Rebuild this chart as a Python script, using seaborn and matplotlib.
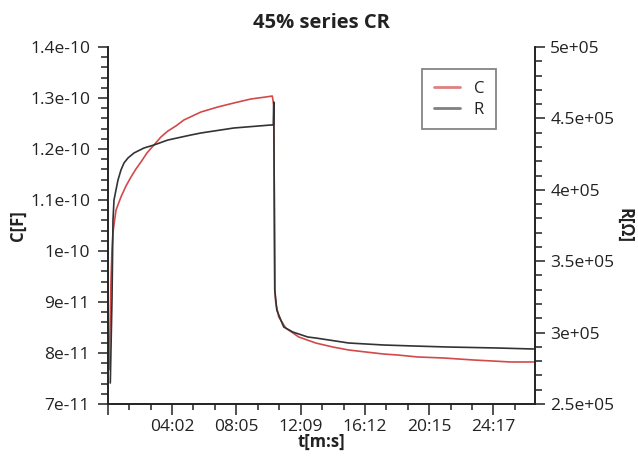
import numpy as np
import pandas as pd
import matplotlib
matplotlib.use("Agg")
import matplotlib.pyplot as plt
from matplotlib.ticker import FixedLocator, FuncFormatter, MultipleLocator, AutoMinorLocator
from matplotlib.lines import Line2D
import seaborn as sns

# ---------------- data (time in seconds) ----------------
t_c = [3.8, 7.6, 11.3, 15.1, 18.9, 30.2, 49.1, 68.0, 86.9, 105.7, 124.6, 147.3,
       173.7, 200.1, 226.6, 256.7, 287.1,
       351.3, 415.5, 475.9, 540.1, 596.8, 621.3, 627.0, 629.0, 630.8, 634.6,
       645.9, 672.3, 721.4, 785.6, 849.8, 910.3, 974.5, 1042.5, 1095.3, 1170.9,
       1269.1, 1382.4, 1522.1, 1609.0]
c_vals = [7.67e-11, 8.45e-11, 9.43e-11, 1.002e-10, 1.037e-10, 1.080e-10, 1.106e-10,
          1.1275e-10, 1.145e-10, 1.1608e-10, 1.1745e-10, 1.1922e-10, 1.2078e-10,
          1.2235e-10, 1.2353e-10, 1.2451e-10, 1.2569e-10, 1.2725e-10,
          1.2824e-10, 1.2902e-10, 1.2980e-10, 1.3020e-10, 1.3039e-10, 1.2863e-10,
          1.10e-10, 9.235e-11, 8.98e-11, 8.706e-11, 8.490e-11, 8.314e-11, 8.196e-11,
          8.118e-11, 8.059e-11, 8.020e-11, 7.980e-11, 7.961e-11, 7.922e-11,
          7.902e-11, 7.863e-11, 7.824e-11, 7.824e-11]

t_r = [8.7, 15.1, 18.9, 22.7, 30.2, 37.8, 49.1, 60.4, 75.5, 98.2, 136.0, 173.7,
       226.6, 313.5, 351.3,
       475.9, 615.7, 625.1, 627.0, 629.0, 630.8, 638.4, 653.5, 664.8, 698.7,
       755.4, 785.6, 910.3, 1042.5, 1155.8, 1284.2, 1473.0, 1609.0]
r_vals = [264706, 322829, 378851, 392857, 399860, 406863, 413866, 418768, 422269,
          425770, 429272, 431373,
          434874, 438375, 439776, 443277, 445378, 445378, 461485, 392857, 329832,
          315826, 308824, 303922, 300420, 296919, 296218, 292717, 291317, 290616,
          289916, 289216, 288515]

x_major = [0, 242, 485, 729, 972, 1215, 1457]
x_labels = ["", "04:02", "08:05", "12:09", "16:12", "20:15", "24:17"]

title = "45% series CR"
c_label, r_label = "C", "R"

df_c = pd.DataFrame({"t": t_c, "C": c_vals})
df_r = pd.DataFrame({"t": t_r, "R": r_vals})

# ---------------- style ----------------
sns.set_theme(style="ticks")
plt.rcParams["font.family"] = ["Open Sans", "DejaVu Sans"]

C_COLOR = "#d24a4a"
R_COLOR = "#333333"
TXT = "#222222"

fig = plt.figure(figsize=(6.38, 4.62), dpi=100)
ax = fig.add_axes([108 / 638, 58 / 462, 427 / 638, 357 / 462])
ax2 = ax.twinx()

sns.lineplot(data=df_c, x="t", y="C", ax=ax, color=C_COLOR, lw=1.2,
             sort=False, estimator=None, legend=False)
sns.lineplot(data=df_r, x="t", y="R", ax=ax2, color=R_COLOR, lw=1.2,
             sort=False, estimator=None, legend=False)

ax.set_xlim(0, 1615)
ax.set_ylim(7e-11, 1.4e-10)
ax2.set_ylim(2.5e5, 5e5)

# x ticks
ax.xaxis.set_major_locator(FixedLocator(x_major))
ax.set_xticklabels(x_labels)
step = np.diff(x_major).mean()
minor = []
for a in x_major:
    minor += [a + step / 3, a + 2 * step / 3]
ax.xaxis.set_minor_locator(FixedLocator([m for m in minor if m < 1620]))

# y ticks
ax.yaxis.set_major_locator(MultipleLocator(1e-11))
ax.yaxis.set_minor_locator(AutoMinorLocator(5))
ax.yaxis.set_major_formatter(FuncFormatter(lambda v, p: "{:.3g}".format(v)))
ax2.yaxis.set_major_locator(MultipleLocator(5e4))
ax2.yaxis.set_minor_locator(AutoMinorLocator(5))
ax2.yaxis.set_major_formatter(FuncFormatter(lambda v, p: "{:.3g}".format(v)))

for a in (ax, ax2):
    a.tick_params(which="both", direction="out", colors=TXT, labelsize=12.5,
                  width=1.1)
    for s in a.spines.values():
        s.set_color(TXT)
        s.set_linewidth(1.2)
    a.spines["top"].set_visible(False)
    a.xaxis.get_offset_text().set_visible(False)
    a.yaxis.get_offset_text().set_visible(False)

ax.tick_params(axis="y", which="major", length=7, pad=6)
ax.tick_params(axis="y", which="minor", length=5)
ax2.tick_params(axis="y", which="major", length=7, pad=4)
ax2.tick_params(axis="y", which="minor", length=5)
ax.tick_params(axis="x", which="major", length=8, pad=3)
ax.tick_params(axis="x", which="minor", length=4)

ax.set_xlabel("t[m:s]", fontsize=12, fontweight="bold", labelpad=-1.5, color=TXT)
ax.set_ylabel("C[F]", fontsize=12, fontweight="bold", labelpad=2, color=TXT)
ax2.set_xlabel("")
ax2.set_ylabel("R[Ω]", fontsize=12, fontweight="bold", rotation=270,
               labelpad=14, color=TXT)
ax.set_title(title, fontsize=14.5, fontweight="bold", pad=14, color=TXT)

handles = [Line2D([], [], color="#e08080", lw=2),
           Line2D([], [], color="#808080", lw=2)]
leg = ax.legend(handles, [c_label, r_label], loc="upper left",
                bbox_to_anchor=(0.735, 0.938), frameon=True, fancybox=False,
                fontsize=12, handlelength=1.6, borderpad=0.7, labelspacing=0.3,
                handletextpad=0.8, borderaxespad=0)
leg.get_frame().set_edgecolor("#666666")
leg.get_frame().set_linewidth(1.3)
for t in leg.get_texts():
    t.set_color(TXT)

fig.savefig("out.png", dpi=100)
